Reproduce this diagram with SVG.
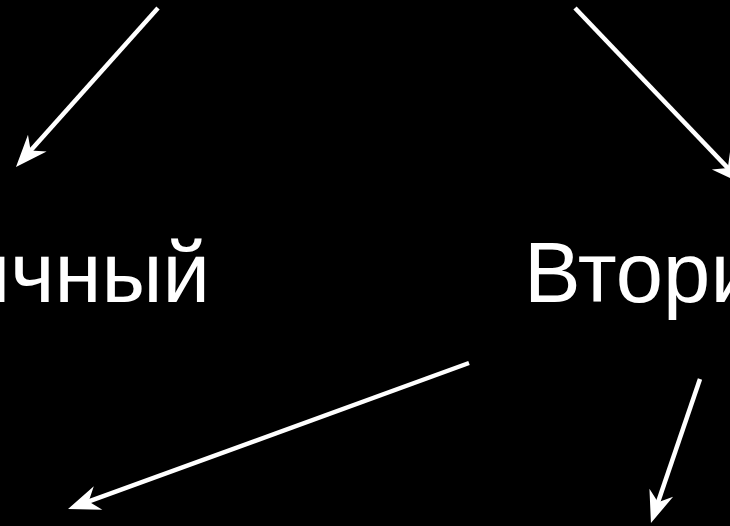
<svg xmlns="http://www.w3.org/2000/svg" width="730" height="526" viewBox="0 0 730 526">
<style>
.lbl{font-family:"Liberation Sans",Arial,sans-serif;font-size:85px;fill:#fff}
.edge{stroke:#fff;stroke-width:4.5;fill:none;marker-end:url(#ah)}
</style>
<defs>
<marker id="ah" markerUnits="userSpaceOnUse" orient="auto" refX="0" refY="0" viewBox="-14 -14 36 28" markerWidth="36" markerHeight="28" overflow="visible">
<path d="M20,0 L-12,-12.5 L-2,0 L-12,12.5 Z" fill="#fff"/>
</marker>
</defs>
<rect width="730" height="526" fill="#000"/>
<g id="node-primary"><text class="lbl" x="210" y="302" text-anchor="end">ичный</text></g>
<g id="node-secondary"><text class="lbl" x="524" y="302">Втори</text></g>
<g id="connectors">
<line class="edge" x1="158" y1="8" x2="29.3" y2="152.1"/>
<line class="edge" x1="575" y1="8" x2="729.2" y2="169.5"/>
<line class="edge" x1="469" y1="363" x2="86.8" y2="502.2"/>
<line class="edge" x1="700" y1="379" x2="657.4" y2="504.1"/>
</g>
</svg>
